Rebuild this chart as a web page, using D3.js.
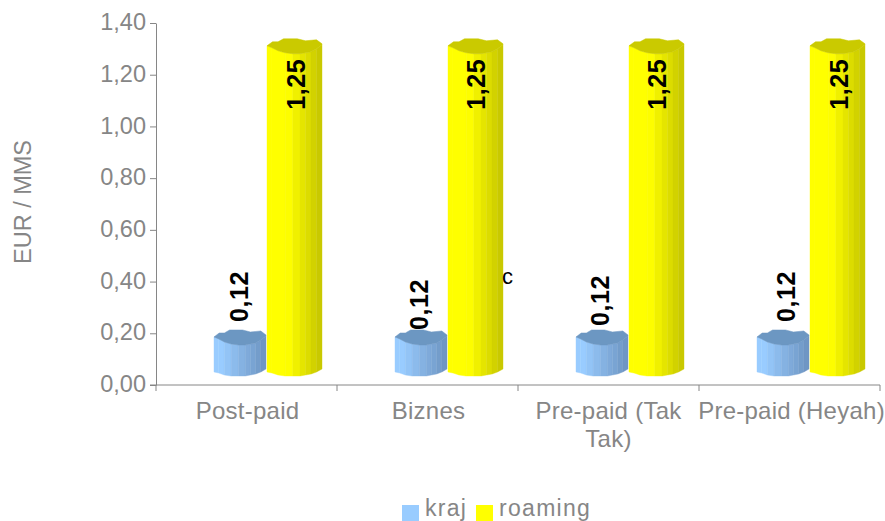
<!DOCTYPE html>
<html><head><meta charset="utf-8">
<script src="https://cdn.jsdelivr.net/npm/d3@7"></script>
<style>html,body{margin:0;padding:0;background:#fff}svg{display:block}text{font-family:"Liberation Sans",Arial,sans-serif}</style>
</head><body><div id="c"></div>
<script>
const categories = ["Post-paid","Biznes","Pre-paid (Tak Tak)","Pre-paid (Heyah)"];
const kraj = [0.12,0.12,0.12,0.12];
const roaming = [1.25,1.25,1.25,1.25];
const seriesNames = ["kraj","roaming"];
const yTicks = [0,0.2,0.4,0.6,0.8,1.0,1.2,1.4];

const W=885,H=521,grey="#868686";
const svg=d3.select("#c").append("svg").attr("width",W).attr("height",H);
const y=d3.scaleLinear().domain([0,1.4]).range([385,23]);
const x=d3.scaleBand().domain(categories).range([156,880]);
const sub=d3.scaleBand().domain(seriesNames).range([58,166]);
const fmt=d3.format(".2f"), comma=v=>fmt(v).replace(".",",");
const depth=16;

// y axis
const ya=svg.append("g").attr("transform","translate(156,0)").call(d3.axisLeft(y).tickValues(yTicks).tickSize(6).tickSizeOuter(0).tickPadding(4).tickFormat(comma));
ya.selectAll("text").attr("font-size",23.5).attr("fill",grey).attr("dy","0.28em");
ya.selectAll("line,path").attr("stroke",grey);
// x axis
svg.append("g").attr("transform","translate(0,385)").call(d3.axisBottom(x).tickSize(0).tickFormat(""))
  .selectAll("path").attr("stroke",grey).attr("d","M150,0H880");
svg.append("g").selectAll("line").data(categories.concat("end")).join("line")
  .attr("x1",(d,i)=>x.range()[0]+i*x.step()).attr("x2",(d,i)=>x.range()[0]+i*x.step())
  .attr("y1",385).attr("y2",391).attr("stroke",grey);

const labelLines={"Pre-paid (Tak Tak)":["Pre-paid (Tak","Tak)"]};
const catDx=[1,1,0,2];
svg.append("g").selectAll("text").data(categories).join("text")
  .attr("y",419).attr("text-anchor","middle").attr("font-size",24).attr("letter-spacing",.25).attr("fill",grey)
  .each(function(d,i){const t=d3.select(this),xx=x(d)+x.bandwidth()/2+catDx[i];
    (labelLines[d]||[d]).forEach((s,k)=>t.append("tspan").attr("x",xx).attr("dy",k?28:0).text(s));});

svg.append("text").attr("transform","translate(31,202) rotate(-90)").attr("text-anchor","middle")
  .attr("font-size",23.5).attr("fill",grey).text("EUR / MMS");

// facet profile of the polygon column: fraction across, top edge and bottom edge bulge
const fr=[0,.09,.2,.33,.47,.6,.7,.8,.9,1];
const topEdge=[-1,1,4,6,7,7,6,5,2,-2];
const botEdge=[3,4,6,7,7,7,6,5,3,0];
const backTop=[[1,-3],[.9,-7],[.7,-6],[.55,-8],[.3,-8],[.2,-5],[.1,-5]];
const pal={kraj:{l:"#99ccff",d:"#6c93c0",top:"#6c97c2"},roaming:{l:"#ffff00",d:"#c4c400",top:"#caca00"}};

function drawBar(g,cat,name,v){
  const isK=name==="kraj";
  const left=x(cat)+sub(name)-(isK?0:1), w=sub.bandwidth()+(isK?-2:1);
  const topY=y(v)-depth+(isK?0:1), botY=y(0)-depth;
  const c=pal[name];
  const shade=d3.scaleLinear().domain(isK?[0,.15,1]:[0,.38,1]).range([c.l,c.l,c.d]).interpolate(d3.interpolateRgb);
  const px=t=>left+t*w;
  const idx=d3.range(fr.length-1);
  g.selectAll(null).data(idx).join("path")
    .attr("d",i=>`M${px(fr[i])},${topY+topEdge[i]}L${px(fr[i+1])},${topY+topEdge[i+1]}L${px(fr[i+1])},${botY+botEdge[i+1]}L${px(fr[i])},${botY+botEdge[i]}Z`)
    .attr("fill",i=>shade((fr[i]+fr[i+1])/2)).attr("stroke",i=>shade((fr[i]+fr[i+1])/2)).attr("stroke-width",.4);
  const topPts=fr.map((t,i)=>[t,topEdge[i]]).concat(backTop);
  g.append("path").attr("fill",c.top).attr("stroke",c.top).attr("stroke-width",.5)
    .attr("d","M"+topPts.map(p=>`${px(p[0])},${topY+p[1]}`).join("L")+"Z");
}
const bars=svg.append("g");
categories.forEach((cat,i)=>{
  drawBar(bars.append("g"),cat,"kraj",kraj[i]);
  drawBar(bars.append("g"),cat,"roaming",roaming[i]);
});

// value labels
const krajShift=[0,8,4,0];
const krajDx=[0,-1,-1,4];
const lab=svg.append("g");
categories.forEach((cat,i)=>{
  [[kraj[i],x(cat)+92+krajDx[i],y(kraj[i])-32+krajShift[i]],
   [roaming[i],x(cat)+149-(i===1||i===2?1:0),y(roaming[i])+48]].forEach(([v,px,py])=>{
    lab.append("text").attr("transform",`translate(${px},${py}) rotate(-90)`)
      .attr("font-size",25).attr("letter-spacing",.6).attr("font-weight","bold").attr("fill","#000").text(comma(v));
  });
});
svg.append("text").attr("x",502).attr("y",284).attr("font-size",22).attr("fill","#000").text("c");

// legend
const lg=svg.append("g");
const lgX=[402,476];
seriesNames.forEach((n,i)=>{
  lg.append("rect").attr("x",lgX[i]).attr("y",505).attr("width",17).attr("height",16).attr("fill",pal[n].l);
  lg.append("text").attr("x",lgX[i]+23).attr("y",516).attr("font-size",23).attr("letter-spacing",1.3).attr("fill",grey).text(n);
});
</script></body></html>
